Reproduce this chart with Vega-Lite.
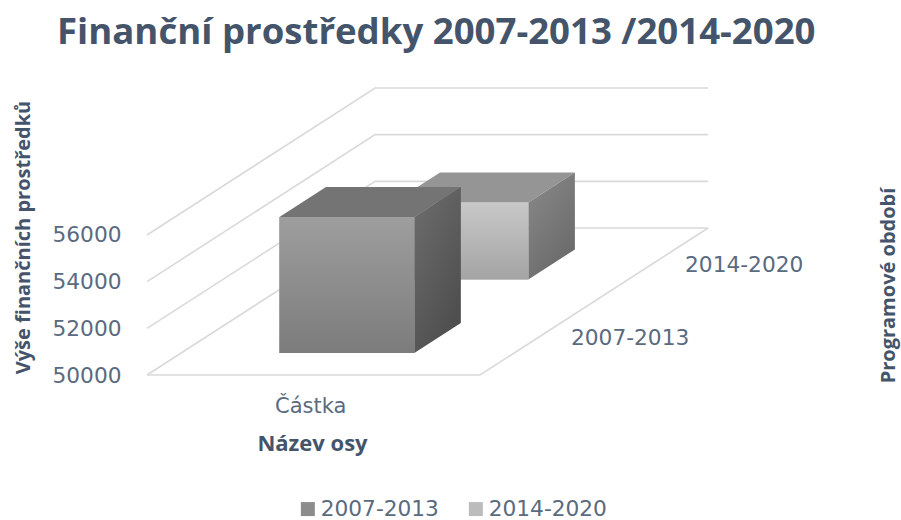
{"$schema":"https://vega.github.io/schema/vega-lite/v6.json","width":754,"height":520,"autosize":"none","padding":{"left":147,"top":0,"right":0,"bottom":0},"background":"white",
"title":{"text":"Finanční prostředky 2007-2013 /2014-2020","anchor":"start","frame":"group","dx":-90,"dy":10,"offset":-42,"font":"Open Sans","fontSize":36.6,"fontWeight":"bold","color":"#44546a"},
"datasets":{"bars":[{"series":"2007-2013","value":55830},{"series":"2014-2020","value":53300}],"ticks":[{"tick":50000},{"tick":52000},{"tick":54000},{"tick":56000}]},
"config":{"view":{"stroke":null},"axis":{"grid":false,"domain":false,"ticks":false,"labelFont":"DejaVu Sans","labelFontSize":21.7,"labelColor":"#5a6a7f","titleFont":"Open Sans","titleFontSize":20,"titleFontWeight":"bold","titleColor":"#44546a"},"text":{"font":"DejaVu Sans"}},
"resolve":{"axis":{"y":"independent","x":"independent"}},
"layer":[
{"data":{"name":"ticks"},"transform":[{"calculate":"[0,1,2]","as":"t"},{"flatten":["t"]},{"calculate":"datum.t==0?0:(datum.t==1?0.685:1.685)","as":"px"},{"calculate":"datum.tick+(datum.t>0?6300:0)","as":"py"}],
 "mark":{"type":"line","stroke":"#d9d9d9","strokeWidth":1.6},
 "encoding":{"x":{"field":"px","type":"quantitative","scale":{"domain":[0,2.2643],"nice":false,"zero":false},"axis":{"title":"Název osy","values":[0.49],"labelExpr":"'Částka'","labelFontSize":21,"offset":-145,"labelPadding":20,"titleX":165,"titleY":68,"titleBaseline":"middle","titleFontSize":22}},
 "y":{"field":"py","type":"quantitative","scale":{"domain":[43786,66071],"nice":false,"zero":false},"axis":{"title":"Výše finančních prostředků","values":[50000,52000,54000,56000],"format":"d","labelPadding":26,"titleX":-114,"titleY":237}},"detail":{"field":"tick"},"order":{"field":"t"}}},
{"data":{"name":"ticks"},"transform":[{"filter":"datum.tick==50000"},{"calculate":"[0,1,2]","as":"t"},{"flatten":["t"]},{"calculate":"datum.t==0?0:(datum.t==1?1:1.685)","as":"px"},{"calculate":"datum.tick+(datum.t>1?6300:0)","as":"py"}],
 "mark":{"type":"line","stroke":"#d9d9d9","strokeWidth":1.6},
 "encoding":{"x":{"field":"px","type":"quantitative","axis":null},"y":{"field":"py","type":"quantitative","axis":{"orient":"right","title":"Programové období","labels":false,"titleX":-3,"titleY":285,"titleAngle":-90}},"order":{"field":"t"}}},
{"data":{"name":"bars"},"transform":[{"calculate":"datum.series=='2007-2013'?0.15:0.65","as":"z"},{"calculate":"0.295+0.685*datum.z","as":"xa"},{"calculate":"0.70+0.685*datum.z","as":"xb"},{"calculate":"datum.value+6300*datum.z","as":"yt"},{"calculate":"50000+6300*datum.z","as":"yb"}],
 "mark":{"type":"rect"},
 "encoding":{"x":{"field":"xa","type":"quantitative","axis":null},"x2":{"field":"xb"},"y":{"field":"yt","type":"quantitative","axis":null},"y2":{"field":"yb"},
 "fill":{"field":"series","type":"nominal","scale":{"domain":["2007-2013","2014-2020"],"range":["#8c8c8c","#bcbcbc"]},
 "legend":{"title":null,"orient":"none","legendX":150,"legendY":498,"direction":"horizontal","symbolType":"square","symbolSize":196,"symbolStrokeWidth":0,"labelFont":"DejaVu Sans","labelFontSize":21.7,"labelColor":"#5a6a7f","columnPadding":26,"labelOffset":2}}}},
{"data":{"name":"bars"},"transform":[{"filter":"datum.series=='2014-2020'"},{"calculate":"[0,1]","as":"t"},{"flatten":["t"]},{"calculate":"0.65+0.204*datum.t","as":"z"},{"calculate":"0.295+0.685*datum.z","as":"xa"},{"calculate":"0.70+0.685*datum.z","as":"xb"},{"calculate":"datum.value+6300*datum.z","as":"yt"},{"calculate":"50000+6300*datum.z","as":"yb"}],
 "layer":[
 {"mark":{"type":"area","orient":"horizontal","fill":"#959595","stroke":null},"encoding":{"y":{"field":"yt","type":"quantitative","axis":null},"x":{"field":"xa","type":"quantitative","axis":null},"x2":{"field":"xb"}}},
 {"mark":{"type":"area","fill":{"gradient":"linear","x1":0,"y1":0,"x2":0.6,"y2":1,"stops":[{"offset":0,"color":"#8a8a8a"},{"offset":1,"color":"#6a6a6a"}]}},"encoding":{"x":{"field":"xb","type":"quantitative","axis":null},"y":{"field":"yt","type":"quantitative","axis":null},"y2":{"field":"yb"}}}
 ]},
{"data":{"name":"bars"},"transform":[{"filter":"datum.series=='2014-2020'"},{"calculate":"0.65","as":"z"},{"calculate":"0.295+0.685*datum.z","as":"xa"},{"calculate":"0.70+0.685*datum.z","as":"xb"},{"calculate":"datum.value+6300*datum.z","as":"yt"},{"calculate":"50000+6300*datum.z","as":"yb"}],
 "mark":{"type":"rect","fill":{"gradient":"linear","x1":0,"y1":0,"x2":0,"y2":1,"stops":[{"offset":0,"color":"#c8c8c8"},{"offset":1,"color":"#a4a4a4"}]}},
 "encoding":{"x":{"field":"xa","type":"quantitative","axis":null},"x2":{"field":"xb"},"y":{"field":"yt","type":"quantitative","axis":null},"y2":{"field":"yb"}}},
{"data":{"name":"bars"},"transform":[{"filter":"datum.series=='2007-2013'"},{"calculate":"[0,1]","as":"t"},{"flatten":["t"]},{"calculate":"0.15+0.204*datum.t","as":"z"},{"calculate":"0.295+0.685*datum.z","as":"xa"},{"calculate":"0.70+0.685*datum.z","as":"xb"},{"calculate":"datum.value+6300*datum.z","as":"yt"},{"calculate":"50000+6300*datum.z","as":"yb"}],
 "layer":[
 {"mark":{"type":"area","orient":"horizontal","fill":"#747474","stroke":null},"encoding":{"y":{"field":"yt","type":"quantitative","axis":null},"x":{"field":"xa","type":"quantitative","axis":null},"x2":{"field":"xb"}}},
 {"mark":{"type":"area","fill":{"gradient":"linear","x1":0,"y1":0,"x2":0.6,"y2":1,"stops":[{"offset":0,"color":"#6e6e6e"},{"offset":1,"color":"#4e4e4e"}]}},"encoding":{"x":{"field":"xb","type":"quantitative","axis":null},"y":{"field":"yt","type":"quantitative","axis":null},"y2":{"field":"yb"}}}
 ]},
{"data":{"name":"bars"},"transform":[{"filter":"datum.series=='2007-2013'"},{"calculate":"0.15","as":"z"},{"calculate":"0.295+0.685*datum.z","as":"xa"},{"calculate":"0.70+0.685*datum.z","as":"xb"},{"calculate":"datum.value+6300*datum.z","as":"yt"},{"calculate":"50000+6300*datum.z","as":"yb"}],
 "mark":{"type":"rect","fill":{"gradient":"linear","x1":0,"y1":0,"x2":0,"y2":1,"stops":[{"offset":0,"color":"#9e9e9e"},{"offset":1,"color":"#7c7c7c"}]}},
 "encoding":{"x":{"field":"xa","type":"quantitative","axis":null},"x2":{"field":"xb"},"y":{"field":"yt","type":"quantitative","axis":null},"y2":{"field":"yb"}}},
{"data":{"name":"bars"},"transform":[{"calculate":"datum.series=='2007-2013'?0.25:0.75","as":"zc"},{"calculate":"1+0.685*datum.zc","as":"lx"},{"calculate":"50000+6300*datum.zc","as":"ly"}],
 "mark":{"type":"text","align":"left","baseline":"middle","dx":34,"fontSize":21.7,"font":"DejaVu Sans","color":"#5a6a7f"},
 "encoding":{"x":{"field":"lx","type":"quantitative","axis":null},"y":{"field":"ly","type":"quantitative","axis":null},"text":{"field":"series"}}}
]}
